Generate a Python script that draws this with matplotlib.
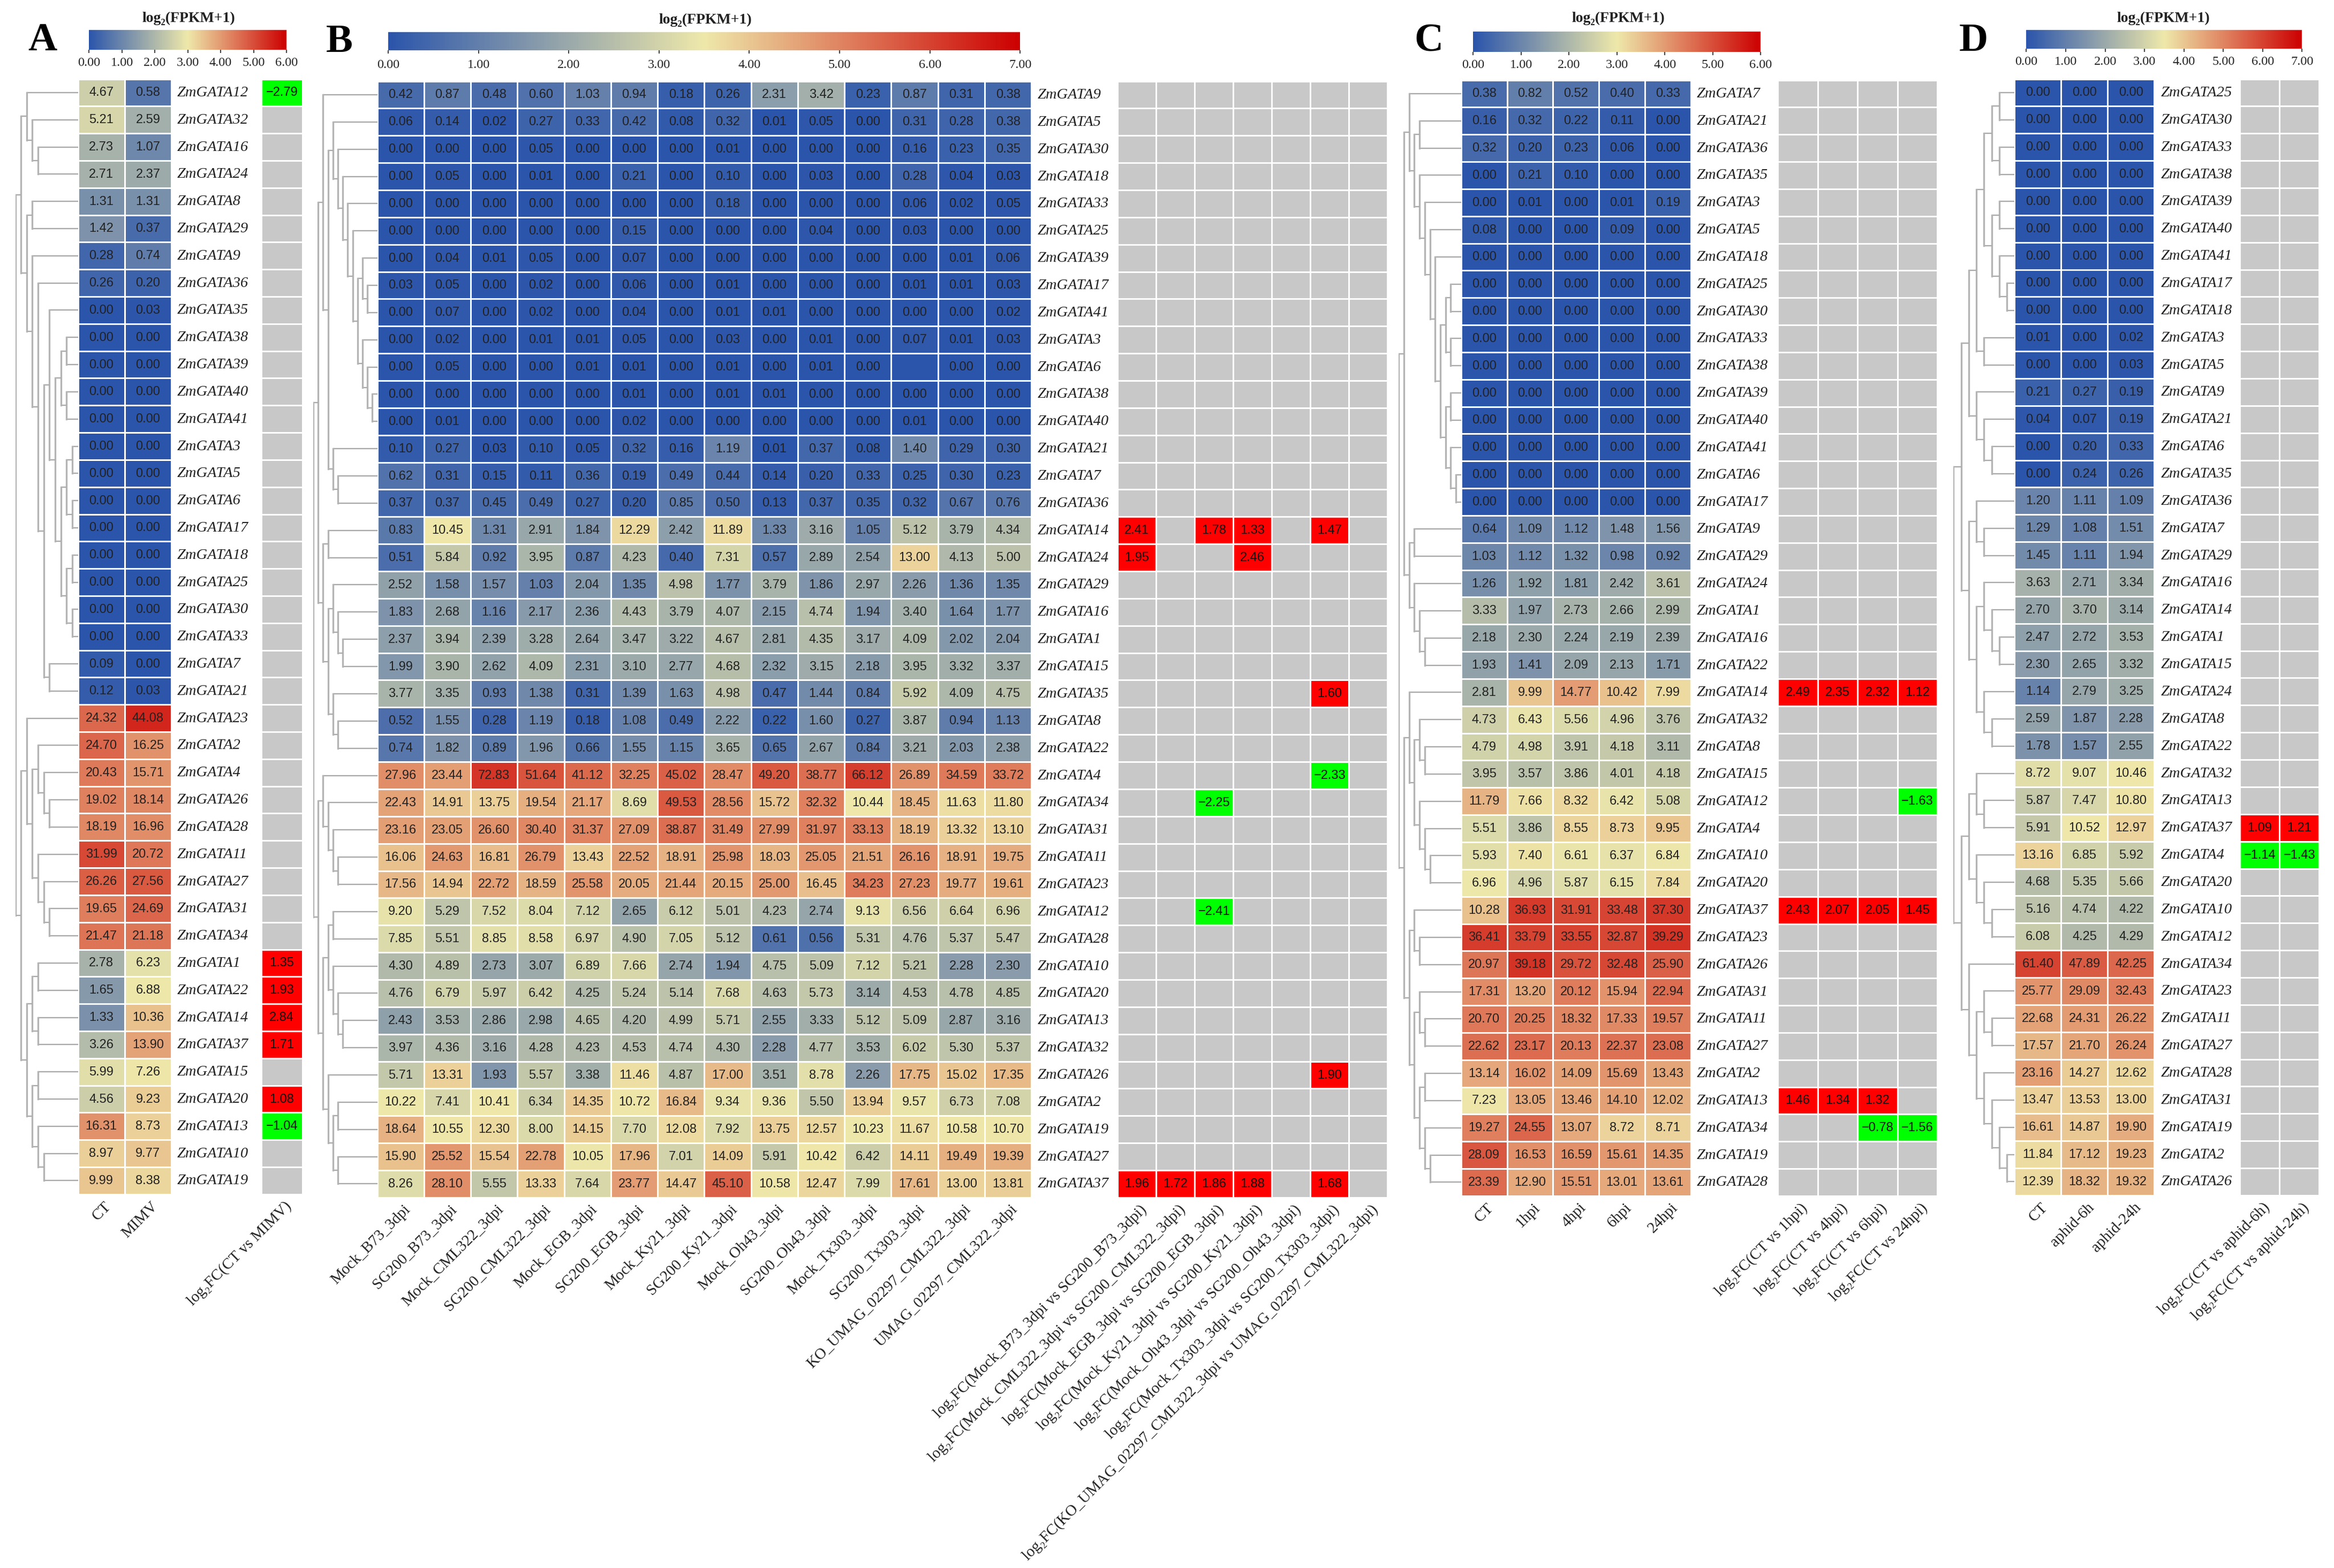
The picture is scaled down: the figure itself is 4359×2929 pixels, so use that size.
"""GATA expression heatmaps, panels A-D."""
import numpy as np
import matplotlib
matplotlib.use("Agg")
import matplotlib.pyplot as plt
from matplotlib.cm import ScalarMappable
from matplotlib.colors import LinearSegmentedColormap, ListedColormap, Normalize

W, H = 4359, 2929
SERIF = ["Liberation Serif", "DejaVu Serif"]
SANS = ["Liberation Sans", "DejaVu Sans"]
nan = float("nan")

# Panel A
a_tree = (((12, (32, (16, 24))),
           ((8, 29), (9, (36, ((35, (((38, 39), (40, 41)), (((3, 5), (6, 17)), ((18, 25), (30, 33))))), (7, 21)))))),
          ((23, ((2, (4, (26, 28))), (11, (27, (31, 34))))),
           (((1, 22), (14, 37)), ((15, 20), (13, (10, 19))))))
a_samples = ["CT", "MIMV"]
a_contrasts = ["log₂FC(CT vs MIMV)"]
a_fpkm = [
    [4.67, 0.58], [5.21, 2.59], [2.73, 1.07], [2.71, 2.37], [1.31, 1.31], [1.42, 0.37], [0.28, 0.74],
    [0.26, 0.20], [0.00, 0.03], [0, 0], [0, 0], [0, 0], [0, 0], [0, 0], [0, 0], [0, 0], [0, 0], [0, 0],
    [0, 0], [0, 0], [0, 0], [0.09, 0.00], [0.12, 0.03], [24.32, 44.08], [24.70, 16.25], [20.43, 15.71],
    [19.02, 18.14], [18.19, 16.96], [31.99, 20.72], [26.26, 27.56], [19.65, 24.69], [21.47, 21.18],
    [2.78, 6.23], [1.65, 6.88], [1.33, 10.36], [3.26, 13.90], [5.99, 7.26], [4.56, 9.23], [16.31, 8.73],
    [8.97, 9.77], [9.99, 8.38],
]
a_lfc = {12: [-2.79], 1: [1.35], 22: [1.93], 14: [2.84], 37: [1.71], 20: [1.08], 13: [-1.04]}

# Panel B
b_tree = (((9, ((5, (30, (18, (33, (25, ((39, (17, 41)), (3, (6, (38, 40))))))))), (21, (7, 36)))),
           ((14, 24), ((29, (16, (1, 15))), (35, (8, 22))))),
          ((4, (34, (31, (11, 23)))),
           (((12, 28), (10, (20, (13, 32)))), (26, ((2, 19), (27, 37))))))
b_samples = ["Mock_B73_3dpi", "SG200_B73_3dpi", "Mock_CML322_3dpi", "SG200_CML322_3dpi", "Mock_EGB_3dpi",
             "SG200_EGB_3dpi", "Mock_Ky21_3dpi", "SG200_Ky21_3dpi", "Mock_Oh43_3dpi", "SG200_Oh43_3dpi",
             "Mock_Tx303_3dpi", "SG200_Tx303_3dpi", "KO_UMAG_02297_CML322_3dpi", "UMAG_02297_CML322_3dpi"]
b_contrasts = ["log₂FC(Mock_B73_3dpi vs SG200_B73_3dpi)", "log₂FC(Mock_CML322_3dpi vs SG200_CML322_3dpi)",
               "log₂FC(Mock_EGB_3dpi vs SG200_EGB_3dpi)", "log₂FC(Mock_Ky21_3dpi vs SG200_Ky21_3dpi)",
               "log₂FC(Mock_Oh43_3dpi vs SG200_Oh43_3dpi)", "log₂FC(Mock_Tx303_3dpi vs SG200_Tx303_3dpi)",
               "log₂FC(KO_UMAG_02297_CML322_3dpi vs UMAG_02297_CML322_3dpi)"]
b_fpkm = [
    [0.42, 0.87, 0.48, 0.60, 1.03, 0.94, 0.18, 0.26, 2.31, 3.42, 0.23, 0.87, 0.31, 0.38],
    [0.06, 0.14, 0.02, 0.27, 0.33, 0.42, 0.08, 0.32, 0.01, 0.05, 0.00, 0.31, 0.28, 0.38],
    [0.00, 0.00, 0.00, 0.05, 0.00, 0.00, 0.00, 0.01, 0.00, 0.00, 0.00, 0.16, 0.23, 0.35],
    [0.00, 0.05, 0.00, 0.01, 0.00, 0.21, 0.00, 0.10, 0.00, 0.03, 0.00, 0.28, 0.04, 0.03],
    [0.00, 0.00, 0.00, 0.00, 0.00, 0.00, 0.00, 0.18, 0.00, 0.00, 0.00, 0.06, 0.02, 0.05],
    [0.00, 0.00, 0.00, 0.00, 0.00, 0.15, 0.00, 0.00, 0.00, 0.04, 0.00, 0.03, 0.00, 0.00],
    [0.00, 0.04, 0.01, 0.05, 0.00, 0.07, 0.00, 0.00, 0.00, 0.00, 0.00, 0.00, 0.01, 0.06],
    [0.03, 0.05, 0.00, 0.02, 0.00, 0.06, 0.00, 0.01, 0.00, 0.00, 0.00, 0.01, 0.01, 0.03],
    [0.00, 0.07, 0.00, 0.02, 0.00, 0.04, 0.00, 0.01, 0.01, 0.00, 0.00, 0.00, 0.00, 0.02],
    [0.00, 0.02, 0.00, 0.01, 0.01, 0.05, 0.00, 0.03, 0.00, 0.01, 0.00, 0.07, 0.01, 0.03],
    [0.00, 0.05, 0.00, 0.00, 0.01, 0.01, 0.00, 0.01, 0.00, 0.01, 0.00, nan, 0.00, 0.00],
    [0.00, 0.00, 0.00, 0.00, 0.00, 0.01, 0.00, 0.01, 0.01, 0.00, 0.00, 0.00, 0.00, 0.00],
    [0.00, 0.01, 0.00, 0.00, 0.00, 0.02, 0.00, 0.00, 0.00, 0.00, 0.00, 0.01, 0.00, 0.00],
    [0.10, 0.27, 0.03, 0.10, 0.05, 0.32, 0.16, 1.19, 0.01, 0.37, 0.08, 1.40, 0.29, 0.30],
    [0.62, 0.31, 0.15, 0.11, 0.36, 0.19, 0.49, 0.44, 0.14, 0.20, 0.33, 0.25, 0.30, 0.23],
    [0.37, 0.37, 0.45, 0.49, 0.27, 0.20, 0.85, 0.50, 0.13, 0.37, 0.35, 0.32, 0.67, 0.76],
    [0.83, 10.45, 1.31, 2.91, 1.84, 12.29, 2.42, 11.89, 1.33, 3.16, 1.05, 5.12, 3.79, 4.34],
    [0.51, 5.84, 0.92, 3.95, 0.87, 4.23, 0.40, 7.31, 0.57, 2.89, 2.54, 13.00, 4.13, 5.00],
    [2.52, 1.58, 1.57, 1.03, 2.04, 1.35, 4.98, 1.77, 3.79, 1.86, 2.97, 2.26, 1.36, 1.35],
    [1.83, 2.68, 1.16, 2.17, 2.36, 4.43, 3.79, 4.07, 2.15, 4.74, 1.94, 3.40, 1.64, 1.77],
    [2.37, 3.94, 2.39, 3.28, 2.64, 3.47, 3.22, 4.67, 2.81, 4.35, 3.17, 4.09, 2.02, 2.04],
    [1.99, 3.90, 2.62, 4.09, 2.31, 3.10, 2.77, 4.68, 2.32, 3.15, 2.18, 3.95, 3.32, 3.37],
    [3.77, 3.35, 0.93, 1.38, 0.31, 1.39, 1.63, 4.98, 0.47, 1.44, 0.84, 5.92, 4.09, 4.75],
    [0.52, 1.55, 0.28, 1.19, 0.18, 1.08, 0.49, 2.22, 0.22, 1.60, 0.27, 3.87, 0.94, 1.13],
    [0.74, 1.82, 0.89, 1.96, 0.66, 1.55, 1.15, 3.65, 0.65, 2.67, 0.84, 3.21, 2.03, 2.38],
    [27.96, 23.44, 72.83, 51.64, 41.12, 32.25, 45.02, 28.47, 49.20, 38.77, 66.12, 26.89, 34.59, 33.72],
    [22.43, 14.91, 13.75, 19.54, 21.17, 8.69, 49.53, 28.56, 15.72, 32.32, 10.44, 18.45, 11.63, 11.80],
    [23.16, 23.05, 26.60, 30.40, 31.37, 27.09, 38.87, 31.49, 27.99, 31.97, 33.13, 18.19, 13.32, 13.10],
    [16.06, 24.63, 16.81, 26.79, 13.43, 22.52, 18.91, 25.98, 18.03, 25.05, 21.51, 26.16, 18.91, 19.75],
    [17.56, 14.94, 22.72, 18.59, 25.58, 20.05, 21.44, 20.15, 25.00, 16.45, 34.23, 27.23, 19.77, 19.61],
    [9.20, 5.29, 7.52, 8.04, 7.12, 2.65, 6.12, 5.01, 4.23, 2.74, 9.13, 6.56, 6.64, 6.96],
    [7.85, 5.51, 8.85, 8.58, 6.97, 4.90, 7.05, 5.12, 0.61, 0.56, 5.31, 4.76, 5.37, 5.47],
    [4.30, 4.89, 2.73, 3.07, 6.89, 7.66, 2.74, 1.94, 4.75, 5.09, 7.12, 5.21, 2.28, 2.30],
    [4.76, 6.79, 5.97, 6.42, 4.25, 5.24, 5.14, 7.68, 4.63, 5.73, 3.14, 4.53, 4.78, 4.85],
    [2.43, 3.53, 2.86, 2.98, 4.65, 4.20, 4.99, 5.71, 2.55, 3.33, 5.12, 5.09, 2.87, 3.16],
    [3.97, 4.36, 3.16, 4.28, 4.23, 4.53, 4.74, 4.30, 2.28, 4.77, 3.53, 6.02, 5.30, 5.37],
    [5.71, 13.31, 1.93, 5.57, 3.38, 11.46, 4.87, 17.00, 3.51, 8.78, 2.26, 17.75, 15.02, 17.35],
    [10.22, 7.41, 10.41, 6.34, 14.35, 10.72, 16.84, 9.34, 9.36, 5.50, 13.94, 9.57, 6.73, 7.08],
    [18.64, 10.55, 12.30, 8.00, 14.15, 7.70, 12.08, 7.92, 13.75, 12.57, 10.23, 11.67, 10.58, 10.70],
    [15.90, 25.52, 15.54, 22.78, 10.05, 17.96, 7.01, 14.09, 5.91, 10.42, 6.42, 14.11, 19.49, 19.39],
    [8.26, 28.10, 5.55, 13.33, 7.64, 23.77, 14.47, 45.10, 10.58, 12.47, 7.99, 17.61, 13.00, 13.81],
]
b_lfc = {
    14: [2.41, nan, 1.78, 1.33, nan, 1.47, nan],
    24: [1.95, nan, nan, 2.46, nan, nan, nan],
    35: [nan, nan, nan, nan, nan, 1.60, nan],
    4: [nan, nan, nan, nan, nan, -2.33, nan],
    34: [nan, nan, -2.25, nan, nan, nan, nan],
    12: [nan, nan, -2.41, nan, nan, nan, nan],
    26: [nan, nan, nan, nan, nan, 1.90, nan],
    37: [1.96, 1.72, 1.86, 1.88, nan, 1.68, nan],
}

# Panel C
c_tree = (((7, ((21, 36), (35, (3, (5, (18, (((25, 30), (33, 38)), ((39, 40), (41, (6, 17)))))))))),
           ((9, 29), (24, (1, (16, 22))))),
          ((14, ((32, (8, 15)), (12, (4, (10, 20))))),
           ((37, (23, 26)), ((31, (11, 27)), ((2, 13), (34, (19, 28)))))))
c_samples = ["CT", "1hpi", "4hpi", "6hpi", "24hpi"]
c_contrasts = ["log₂FC(CT vs 1hpi)", "log₂FC(CT vs 4hpi)", "log₂FC(CT vs 6hpi)", "log₂FC(CT vs 24hpi)"]
c_fpkm = [
    [0.38, 0.82, 0.52, 0.40, 0.33], [0.16, 0.32, 0.22, 0.11, 0.00], [0.32, 0.20, 0.23, 0.06, 0.00],
    [0.00, 0.21, 0.10, 0.00, 0.00], [0.00, 0.01, 0.00, 0.01, 0.19], [0.08, 0.00, 0.00, 0.09, 0.00],
    [0, 0, 0, 0, 0], [0, 0, 0, 0, 0], [0, 0, 0, 0, 0], [0, 0, 0, 0, 0], [0, 0, 0, 0, 0],
    [0, 0, 0, 0, 0], [0, 0, 0, 0, 0], [0, 0, 0, 0, 0], [0, 0, 0, 0, 0], [0, 0, 0, 0, 0],
    [0.64, 1.09, 1.12, 1.48, 1.56], [1.03, 1.12, 1.32, 0.98, 0.92], [1.26, 1.92, 1.81, 2.42, 3.61],
    [3.33, 1.97, 2.73, 2.66, 2.99], [2.18, 2.30, 2.24, 2.19, 2.39], [1.93, 1.41, 2.09, 2.13, 1.71],
    [2.81, 9.99, 14.77, 10.42, 7.99], [4.73, 6.43, 5.56, 4.96, 3.76], [4.79, 4.98, 3.91, 4.18, 3.11],
    [3.95, 3.57, 3.86, 4.01, 4.18], [11.79, 7.66, 8.32, 6.42, 5.08], [5.51, 3.86, 8.55, 8.73, 9.95],
    [5.93, 7.40, 6.61, 6.37, 6.84], [6.96, 4.96, 5.87, 6.15, 7.84], [10.28, 36.93, 31.91, 33.48, 37.30],
    [36.41, 33.79, 33.55, 32.87, 39.29], [20.97, 39.18, 29.72, 32.48, 25.90], [17.31, 13.20, 20.12, 15.94, 22.94],
    [20.70, 20.25, 18.32, 17.33, 19.57], [22.62, 23.17, 20.13, 22.37, 23.08], [13.14, 16.02, 14.09, 15.69, 13.43],
    [7.23, 13.05, 13.46, 14.10, 12.02], [19.27, 24.55, 13.07, 8.72, 8.71], [28.09, 16.53, 16.59, 15.61, 14.35],
    [23.39, 12.90, 15.51, 13.01, 13.61],
]
c_lfc = {
    14: [2.49, 2.35, 2.32, 1.12],
    12: [nan, nan, nan, -1.63],
    37: [2.43, 2.07, 2.05, 1.45],
    13: [1.46, 1.34, 1.32, nan],
    34: [nan, nan, -0.78, -1.56],
}

# Panel D
d_tree = (
    (
        (
            ((((((25, 30), (33, 38)), ((39, 40), (41, (17, 18))))), (3, 5))),
            (9, (21, (6, 35))),
        ),
        ((36, (7, 29)), ((16, (14, (1, 15))), (24, (8, 22)))),
    ),
    (
        ((32, (13, 37)), (4, (20, (10, 12)))),
        (34, ((23, (11, 27)), (28, (31, (19, (2, 26)))))),
    ),
)
d_samples = ["CT", "aphid-6h", "aphid-24h"]
d_contrasts = ["log₂FC(CT vs aphid-6h)", "log₂FC(CT vs aphid-24h)"]
d_fpkm = [
    [0, 0, 0], [0, 0, 0], [0, 0, 0], [0, 0, 0], [0, 0, 0], [0, 0, 0], [0, 0, 0], [0, 0, 0], [0, 0, 0],
    [0.01, 0.00, 0.02], [0.00, 0.00, 0.03], [0.21, 0.27, 0.19], [0.04, 0.07, 0.19], [0.00, 0.20, 0.33],
    [0.00, 0.24, 0.26], [1.20, 1.11, 1.09], [1.29, 1.08, 1.51], [1.45, 1.11, 1.94], [3.63, 2.71, 3.34],
    [2.70, 3.70, 3.14], [2.47, 2.72, 3.53], [2.30, 2.65, 3.32], [1.14, 2.79, 3.25], [2.59, 1.87, 2.28],
    [1.78, 1.57, 2.55], [8.72, 9.07, 10.46], [5.87, 7.47, 10.80], [5.91, 10.52, 12.97], [13.16, 6.85, 5.92],
    [4.68, 5.35, 5.66], [5.16, 4.74, 4.22], [6.08, 4.25, 4.29], [61.40, 47.89, 42.25], [25.77, 29.09, 32.43],
    [22.68, 24.31, 26.22], [17.57, 21.70, 26.24], [23.16, 14.27, 12.62], [13.47, 13.53, 13.00],
    [16.61, 14.87, 19.90], [11.84, 17.12, 19.23], [12.39, 18.32, 19.32],
]
d_lfc = {37: [1.09, 1.21], 4: [-1.14, -1.43]}

fig = plt.figure(figsize=((W + 0.5) / 100, (H + 0.5) / 100), dpi=100, facecolor="white")
heat_cmap = LinearSegmentedColormap.from_list("heat", ["#2b55ab", "#eee8aa", "#cc0000"])
lfc_cmap = ListedColormap(["#c8c8c8", "#ff0000", "#00ff00"])
LABEL_PT = 21


def px_axes(x0, y0, x1, y1):
    ax = fig.add_axes([x0 / W, 1 - y1 / H, (x1 - x0) / W, (y1 - y0) / H])
    return ax


def fmt(v):
    return f"{v:.2f}".replace("-", "−")


def leaves(node):
    if isinstance(node, tuple):
        return [g for child in node for g in leaves(child)]
    return [node]


def tree_depth(node):
    if isinstance(node, tuple):
        return 1 + max(tree_depth(child) for child in node)
    return 0


def draw_tree(ax, node, depth, tips, rows):
    """Plot one clade, return its row position."""
    ys = []
    for child in node:
        if isinstance(child, tuple):
            y = draw_tree(ax, child, depth + 1, tips, rows)
            x = depth + 1
        else:
            y = rows[child] + 0.5
            x = tips
        ax.plot([depth, x], [y, y], color="#a9a9a9", lw=1.7, solid_capstyle="butt")
        ys.append(y)
    ax.plot([depth, depth], [ys[0], ys[-1]], color="#b4b4b4", lw=2.4, solid_capstyle="projecting")
    return (ys[0] + ys[-1]) / 2


def col_labels(ax, labels):
    # rotated names hang off the lower edge of the cells
    for i, label in enumerate(labels):
        ax.annotate(label, xy=(i + 0.5, 0), xycoords=("data", "axes fraction"),
                    xytext=(14, -18), textcoords="offset pixels", rotation=45,
                    rotation_mode="anchor", ha="right", va="center",
                    fontsize=LABEL_PT, family=SERIF, color="#222222")


def draw_panel(letter, letter_xy, tree, samples, contrasts, fpkm, lfc, vmax, bar_box, title_x, title_y,
               tick_pad, root_x, heat_box, gene_x, lfc_x):
    x0, y0, x1, y1 = heat_box
    genes = leaves(tree)
    rows = {g: i for i, g in enumerate(genes)}
    values = np.array(fpkm, dtype=float)

    fig.text(letter_xy[0] / W, 1 - letter_xy[1] / H, letter, fontsize=54, fontweight="bold",
             family=SERIF, ha="center", va="center", color="black")

    # Colour bar
    cax = px_axes(*bar_box)
    norm = Normalize(0, vmax)
    cb = fig.colorbar(ScalarMappable(norm=norm, cmap=heat_cmap), cax=cax, orientation="horizontal")
    cb.outline.set_visible(False)
    cb.set_ticks(np.arange(vmax + 1))
    cb.ax.set_xticklabels([f"{t:.2f}" for t in np.arange(vmax + 1)], fontsize=17.5, family=SERIF, color="#222222")
    cb.ax.tick_params(length=4, width=1.5, pad=tick_pad, color="#444444")
    fig.text(title_x / W, 1 - title_y / H, "log₂(FPKM+1)", fontsize=20, fontweight="bold",
             family=SERIF, ha="center", va="center", color="#222222")

    # Dendrogram
    tax = px_axes(root_x, y0, x0, y1)
    tips = tree_depth(tree)
    draw_tree(tax, tree, 0, tips, rows)
    tax.set_xlim(0, tips)
    tax.set_ylim(len(genes), 0)
    tax.axis("off")

    # Expression cells
    ax = px_axes(x0, y0, x1, y1)
    ax.pcolormesh(np.log2(np.nan_to_num(values) + 1), cmap=heat_cmap, norm=norm,
                  edgecolors="white", linewidth=2)
    ax.set_xlim(0, values.shape[1])
    ax.set_ylim(len(genes), 0)
    ax.axis("off")
    for r, row in enumerate(values):
        for c, v in enumerate(row):
            if not np.isnan(v):
                ax.text(c + 0.5, r + 0.5, fmt(v), ha="center", va="center", fontsize=17,
                        family=SANS, color="#222222")
    col_labels(ax, samples)

    # Gene names
    for r, g in enumerate(genes):
        ax.annotate(f"ZmGATA{g}", xy=(1, r + 0.5), xycoords=("axes fraction", "data"),
                    xytext=(gene_x - x1, 0), textcoords="offset pixels", ha="left", va="center",
                    fontsize=20.5, style="italic", family=SERIF, color="#222222")

    # Significant log2FC cells
    fc = np.full((len(genes), len(contrasts)), nan)
    for g, row in lfc.items():
        fc[rows[g]] = row
    lax = px_axes(lfc_x[0], y0, lfc_x[1], y1)
    state = np.where(np.isnan(fc), 0, np.where(fc > 0, 1, 2))
    lax.pcolormesh(state, cmap=lfc_cmap, vmin=0, vmax=2, edgecolors="white", linewidth=2)
    lax.set_xlim(0, len(contrasts))
    lax.set_ylim(len(genes), 0)
    lax.axis("off")
    for r, c in zip(*np.where(~np.isnan(fc))):
        lax.text(c + 0.5, r + 0.5, fmt(fc[r, c]), ha="center", va="center", fontsize=17,
                 family=SANS, color="#111111")
    col_labels(lax, contrasts)


draw_panel("A", (79, 76), a_tree, a_samples, a_contrasts, a_fpkm, a_lfc, 6, (166, 56, 535, 93), 352, 34, 6,
           28.5, (145.5, 148, 320, 2231), 331, (487.5, 565))
draw_panel("B", (634, 79), b_tree, b_samples, b_contrasts, b_fpkm, b_lfc, 7, (725, 60, 1905, 94), 1317, 37, 8,
           585, (704.5, 152, 1926, 2237), 1937, (2087, 2591))
draw_panel("C", (2668, 77), c_tree, c_samples, c_contrasts, c_fpkm, c_lfc, 6, (2751, 59, 3288, 97), 3022, 34, 6,
           2612, (2728.4, 150, 3157.6, 2234), 3168, (3320, 3618))
draw_panel("D", (3685, 77), d_tree, d_samples, d_contrasts, d_fpkm, d_lfc, 7, (3784, 56, 4299, 91), 4040, 34, 6,
           3648, (3762, 148, 4023, 2233), 4035, (4183, 4331))

fig.savefig("out.png", dpi=100, facecolor="white")
